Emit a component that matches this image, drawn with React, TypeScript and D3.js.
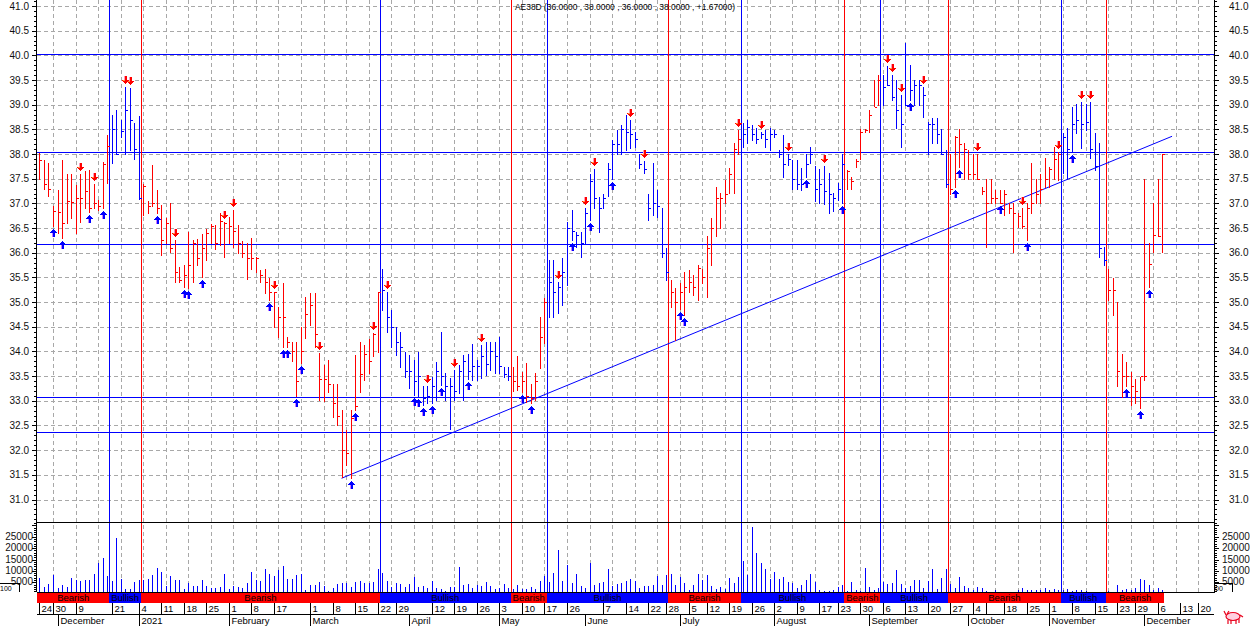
import React, { useEffect } from "react";
import * as d3 from "d3";

// ---- Daily bars (index = trading day) ----
const HIGH = [
  38.03,37.88,37.81,36.95,37.28,37.87,37.60,37.60,37.37,37.60,
  37.66,37.68,37.40,37.07,37.83,38.39,38.79,38.89,38.70,39.35,
  39.33,38.62,38.77,37.39,37.05,37.78,37.28,36.97,36.70,37.00,
  36.26,35.72,35.75,36.43,36.26,36.27,36.39,36.49,36.58,36.56,
  36.80,36.63,36.73,36.87,36.56,36.24,36.20,36.29,35.92,35.66,
  35.68,35.48,35.21,34.90,35.39,34.30,34.20,34.20,34.50,35.11,
  35.18,35.18,33.96,33.72,33.83,33.35,33.35,32.81,32.41,32.81,
  33.93,34.20,34.13,34.26,34.37,35.21,35.68,35.21,34.84,34.50,
  34.40,33.99,33.93,33.83,33.99,33.30,33.30,33.49,33.79,34.40,
  33.56,33.46,33.62,33.73,33.93,33.95,34.16,33.83,34.13,34.20,
  34.20,34.20,34.30,33.69,33.69,33.69,33.91,33.59,33.77,33.35,
  33.56,34.69,35.08,35.85,35.85,35.40,35.89,36.63,36.87,36.43,
  36.43,36.90,37.60,37.70,37.13,37.20,37.81,38.28,38.49,38.59,
  38.79,38.69,38.45,38.01,37.85,37.20,37.81,37.27,36.90,36.09,
  35.45,35.28,35.38,35.62,35.65,35.55,35.75,35.68,36.33,36.70,
  37.34,37.22,37.47,37.71,38.22,38.49,38.62,38.69,38.59,38.52,
  38.45,38.49,38.52,38.49,38.08,38.39,38.01,37.88,37.88,37.71,
  38.01,38.15,37.75,37.70,37.76,37.61,37.22,37.42,38.00,37.67,
  37.54,37.89,38.50,38.50,38.89,39.50,39.60,39.60,39.78,39.60,
  39.50,39.20,40.26,39.80,39.50,39.50,39.35,38.64,38.74,38.74,
  38.50,38.09,38.00,38.37,38.50,38.22,38.09,38.00,38.00,37.34,
  37.50,37.50,37.28,37.28,37.28,37.00,37.00,36.80,36.90,37.00,
  37.81,37.50,37.60,37.91,37.74,38.15,38.05,38.42,38.52,38.95,
  39.01,39.06,39.01,39.06,38.42,38.22,36.12,35.68,35.48,35.01,
  33.95,33.79,33.59,33.45,33.49,37.50,36.20,37.00,37.50,38.00,
];
const LOW = [
  37.50,37.30,37.14,36.55,36.41,36.29,36.60,36.70,36.41,36.63,
  36.90,36.83,36.90,36.87,36.90,37.41,37.81,38.00,38.35,38.00,
  38.08,37.89,37.08,36.77,36.80,36.95,36.80,35.95,36.19,36.02,
  35.41,35.41,35.31,35.28,35.41,35.75,35.50,35.85,36.19,36.07,
  36.16,35.91,36.19,36.12,35.99,35.92,35.46,35.68,35.60,35.41,
  35.19,35.04,34.50,34.30,34.10,34.10,33.80,33.10,33.76,34.27,
  34.54,34.10,33.02,33.00,33.18,32.68,32.51,31.46,31.70,31.43,
  32.81,33.18,33.42,33.56,33.90,33.99,34.84,34.40,34.10,33.93,
  33.69,33.49,33.25,33.12,33.10,32.92,32.95,32.95,33.02,33.32,
  33.02,32.42,33.02,33.15,33.02,33.45,33.42,33.42,33.46,33.52,
  33.62,33.56,33.56,33.49,33.42,33.20,33.22,33.18,32.98,32.95,
  33.02,33.66,34.17,34.70,34.70,34.78,34.94,35.35,36.25,36.12,
  35.92,36.19,36.66,36.90,36.43,36.90,37.14,37.50,38.01,38.00,
  38.08,38.12,38.15,37.71,37.61,36.66,36.77,36.73,35.92,35.45,
  34.90,34.23,34.87,34.74,35.21,35.14,35.04,35.38,35.11,35.75,
  36.33,36.50,37.00,37.22,37.22,38.00,38.15,38.22,38.28,38.22,
  38.32,38.15,38.08,38.35,37.95,37.54,37.78,37.30,37.30,37.27,
  37.54,37.81,37.04,37.00,36.99,36.80,36.85,37.07,37.00,37.30,
  37.30,37.74,37.89,38.45,38.45,38.97,38.99,38.99,39.40,39.10,
  38.52,38.15,39.00,39.10,38.99,38.99,38.76,38.00,38.22,38.22,
  38.00,37.34,37.20,37.34,37.74,37.50,37.50,37.50,37.50,37.20,
  36.12,37.00,37.00,37.00,36.76,36.80,36.02,36.53,36.50,36.26,
  36.80,37.00,37.00,37.34,37.34,37.50,37.47,37.61,37.50,38.05,
  38.42,38.12,38.49,37.91,37.67,35.92,35.75,35.04,34.74,33.29,
  33.08,33.29,32.91,32.95,32.85,33.42,35.30,36.02,36.33,36.02,
];
const CLOSE = [
  37.87,37.40,37.30,36.85,36.83,36.60,37.05,37.03,37.10,37.10,
  37.25,36.90,37.00,36.95,37.80,38.16,38.50,38.00,38.46,38.89,
  38.70,38.10,37.10,37.35,36.95,37.00,36.90,36.25,36.60,36.10,
  35.60,35.45,35.55,35.75,36.20,35.90,36.10,36.40,36.55,36.20,
  36.65,36.60,36.55,36.45,36.20,36.00,35.90,35.90,35.90,35.55,
  35.40,35.20,35.20,34.70,34.70,34.20,34.00,33.40,34.00,34.75,
  34.95,34.35,33.45,33.45,33.35,32.95,32.70,32.00,31.95,32.65,
  32.90,33.55,33.95,33.80,34.35,35.20,35.25,34.70,34.50,34.20,
  34.10,33.60,33.60,33.40,33.50,33.05,33.10,33.30,33.60,33.50,
  33.30,33.30,33.20,33.60,33.80,33.60,33.70,33.70,33.90,33.75,
  34.00,33.90,33.70,33.55,33.50,33.40,33.30,33.40,33.10,33.05,
  33.40,34.30,35.00,35.40,35.20,35.30,35.60,36.50,36.45,36.35,
  36.20,36.80,37.45,37.10,36.90,37.10,37.70,38.20,38.20,38.50,
  38.45,38.40,38.30,37.80,37.70,36.90,37.00,36.95,36.00,35.60,
  35.20,35.00,35.20,35.30,35.40,35.30,35.70,35.50,36.10,36.50,
  37.10,37.10,37.20,37.60,38.10,38.30,38.40,38.55,38.40,38.30,
  38.40,38.30,38.40,38.40,38.00,37.80,37.90,37.50,37.40,37.40,
  37.80,38.00,37.30,37.40,37.25,37.20,37.10,37.30,37.80,37.65,
  37.45,37.85,38.45,38.48,38.80,38.95,39.50,39.35,39.40,39.15,
  38.90,38.60,39.00,39.30,39.40,39.40,39.20,38.60,38.60,38.40,
  38.00,37.40,37.30,38.35,38.20,38.10,37.60,37.60,37.50,37.25,
  37.00,37.10,37.10,37.00,37.20,36.90,36.80,36.75,36.55,36.90,
  37.00,37.20,37.30,37.50,37.70,37.90,38.00,38.35,38.10,38.60,
  38.70,38.60,38.65,38.10,37.75,36.10,35.85,35.25,35.25,33.60,
  33.50,33.50,33.30,33.20,33.50,33.50,35.78,36.35,36.33,38.00,
];
const VOLUME = [
  6800,3100,4100,8200,2600,3800,2800,6800,6000,5600,
  6000,6000,8700,13400,15600,7800,5600,24400,6300,2000,
  2000,5100,6000,6000,6300,8200,11200,9400,3400,7800,
  6000,6000,2200,4600,3400,3500,6000,3500,2400,2400,
  2800,8700,2000,3400,2800,2400,4600,9600,5900,5600,
  10700,8700,7800,10300,12200,6500,6500,8200,8700,1500,
  3800,3800,5000,3400,1200,2400,4100,4600,4600,2800,
  5000,5600,4600,4600,5000,10700,9000,5600,3100,4600,
  4100,3100,4400,7200,3100,3400,2400,5400,2400,2100,
  1200,2800,2800,11600,3800,4300,2400,3800,3400,5100,
  3400,2200,2400,4300,2400,1900,3800,2100,2100,2800,
  2100,5600,7800,5100,9000,19300,5400,12600,4600,8700,
  3400,2400,13400,3800,4900,5100,10900,3400,4300,4700,
  5600,6500,5600,2600,3400,3400,3800,7800,3800,8200,
  8500,3800,7200,4900,1500,3800,8500,6000,8200,3400,
  2200,2800,2200,6800,4700,7200,14400,8200,29100,17800,
  13400,10700,6300,9700,6300,7200,5100,4600,2400,3800,
  6000,8700,5300,1500,1300,1300,1600,3100,3800,1300,
  5100,1600,1200,11200,2800,1600,2600,5100,4300,4700,
  10400,4300,2600,3400,6000,6000,2600,5600,10700,2100,
  6800,10700,4300,2600,7200,3400,2400,1600,2800,2400,
  1200,900,1500,900,900,900,900,1600,2400,1600,
  1500,1500,1800,2400,1500,1900,1800,1500,1900,1200,
  1500,1500,1200,900,900,900,900,1200,900,3800,
  1800,1900,1800,2400,6300,5900,3800,1500,2600,1500,
];

// ---- Signals / trend states ----
const BULL_STARTS = [16, 76, 113, 156, 187, 227];
const BEAR_STARTS = [23, 105, 140, 179, 202, 237];
const UP_ARROWS = [3,5,11,14,26,32,33,36,51,54,55,57,58,69,70,83,84,85,87,89,95,107,109,118,122,127,142,143,170,178,193,203,204,213,219,229,241,244,246];
const DOWN_ARROWS = [9,12,19,20,30,41,43,52,62,74,77,86,92,98,115,121,123,131,134,155,160,166,174,188,189,191,196,208,218,226,231,233];

// ---- Drawn studies ----
const H_LINES = [40.02, 38.05, 36.18, 33.08, 32.36];
const TREND_IDX = [67, 251.2];
const TREND_PRICE = [31.43, 38.36];

// ---- Axis labels ----
const PRICE_LABELS = [31, 31.5, 32, 32.5, 33, 33.5, 34, 34.5, 35, 35.5, 36, 36.5, 37, 37.5, 38, 38.5, 39, 39.5, 40, 40.5, 41];
const VOL_LABELS = [5000, 10000, 15000, 20000, 25000];
const DATE_LABELS = ["24","30","9","21","4","11","18","25","1","8","17","1","8","15","22","29","12","19","26","3","10","17","26","7","14","22","28","5","12","19","26","2","9","17","23","30","6","13","20","27","4","","18","25","1","8","15","23","29","6","13","20"];
const DATE_INDEX = [0,3,8,16,22,27,32,37,42,47,52,60,65,70,75,79,87,92,97,102,107,112,117,125,130,135,139,144,148,153,158,163,168,173,177,182,187,192,197,202,207,210,214,219,224,229,234,239,243,248,253,257];
const MONTH_LABELS = ["December","2021","February","March","April","May","June","July","August","September","October","November","December"];
const MONTH_INDEX = [4,22,42,60,82,102,121,142,163,184,206,224,245];
const GRID_INDEX = [...d3.range(3, 84, 5), ...d3.range(87, 258, 5)];
const TITLE = "AE38D (36.0000 , 38.0000 , 36.0000 , 38.0000 , +1.67000)";

const FONT = "'Liberation Sans', Arial, Helvetica, sans-serif";
const RED = "#ff0000";
const BLUE = "#0000ff";

export default function App() {
  useEffect(() => {
    document.body.style.margin = "0";
  }, []);

  const W = 1250, H = 626;
  const L = 37, R = 1214;
  const PRICE_BOT = 522, VOL_BOT = 592, BAND_BOT = 603, DATE_BOT = 614;
  const n = HIGH.length;

  const x = d3.scaleLinear().domain([-0.55, 260.5]).range([L, R]);
  const yP = d3.scaleLinear().domain([31, 41]).range([499.5, 6]);
  const yV = d3.scaleLinear().domain([0, 25000]).range([593.7, 536.7]);
  const px = (i: number) => Math.round(x(i)) + 0.5;
  const py = (v: number) => Math.round(v) + 0.5;

  const events = [
    { i: 0, bull: false },
    ...BULL_STARTS.map((i) => ({ i, bull: true })),
    ...BEAR_STARTS.map((i) => ({ i, bull: false })),
  ].sort((a, b) => a.i - b.i);
  const segments = events.map((e, k) => ({
    start: e.i,
    end: k < events.length - 1 ? events[k + 1].i : n,
    bull: e.bull,
  }));
  const isBull = (i: number) => {
    let b = false;
    for (const e of events) if (e.i <= i) b = e.bull;
    return b;
  };

  const priceMinor = d3.range(306, 412).map((v) => v / 10).filter((v) => yP(v) >= 0 && yP(v) <= PRICE_BOT);
  const volMinor = d3.range(0, 32).map((v) => v * 1000).filter((v) => yV(v) >= PRICE_BOT && yV(v) <= VOL_BOT);

  const downArrow = (cx: number, t: number) =>
    `M${cx - 1.5},${t - 8} H${cx + 1.5} V${t - 4} H${cx + 3.5} L${cx},${t} L${cx - 3.5},${t - 4} H${cx - 1.5} Z`;
  const upArrow = (cx: number, t: number) =>
    `M${cx - 1.5},${t + 8} H${cx + 1.5} V${t + 4} H${cx + 3.5} L${cx},${t} L${cx - 3.5},${t + 4} H${cx - 1.5} Z`;

  const trendLine = d3.line<number>()
    .x((_, k) => x(TREND_IDX[k]))
    .y((d) => yP(d));

  return (
    <svg
      width={W}
      height={H}
      viewBox={`0 0 ${W} ${H}`}
      style={{ position: "absolute", left: 0, top: 0, background: "#fff", display: "block" }}
      fontFamily={FONT}
    >
      <defs>
        <clipPath id="pclip">
          <rect x={L} y={0} width={R - L} height={PRICE_BOT} />
        </clipPath>
        <clipPath id="vclip">
          <rect x={L} y={PRICE_BOT} width={R - L} height={VOL_BOT - PRICE_BOT} />
        </clipPath>
      </defs>
      <rect x={0} y={0} width={W} height={H} fill="#fff" />

      {/* horizontal dashed grid */}
      {PRICE_LABELS.map((v) => (
        <line key={"hg" + v} x1={L} x2={R} y1={py(yP(v))} y2={py(yP(v))}
          stroke="#a8a8a8" strokeDasharray="4,3" shapeRendering="crispEdges" />
      ))}
      {/* vertical dashed grid */}
      {GRID_INDEX.map((g) => (
        <line key={"vg" + g} x1={px(g)} x2={px(g)} y1={0} y2={VOL_BOT}
          stroke="#a8a8a8" strokeDasharray="4,3" shapeRendering="crispEdges" />
      ))}

      {/* horizontal support / resistance lines */}
      {H_LINES.map((v) => (
        <line key={"hl" + v} x1={L} x2={R} y1={py(yP(v))} y2={py(yP(v))}
          stroke={BLUE} strokeWidth={1} shapeRendering="crispEdges" />
      ))}

      {/* state-change vertical lines */}
      {events.filter((e) => e.i > 0).map((e) => (
        <line key={"ev" + e.i} x1={px(e.i - 0.5)} x2={px(e.i - 0.5)} y1={0} y2={VOL_BOT}
          stroke={e.bull ? BLUE : RED} strokeWidth={1} shapeRendering="crispEdges" />
      ))}

      {/* trend line */}
      <g clipPath="url(#pclip)">
        <path d={trendLine(TREND_PRICE) || ""} fill="none" stroke={BLUE} strokeWidth={1} />
      </g>

      {/* price bars */}
      <g clipPath="url(#pclip)" shapeRendering="crispEdges">
        {HIGH.map((h, i) => {
          const c = isBull(i) ? BLUE : RED;
          const xi = px(i);
          return (
            <g key={"b" + i}>
              <line x1={xi} x2={xi} y1={Math.round(yP(h))} y2={Math.round(yP(LOW[i])) + 1} stroke={c} />
              <line x1={xi} x2={xi + 2.5} y1={py(yP(CLOSE[i]))} y2={py(yP(CLOSE[i]))} stroke={c} />
            </g>
          );
        })}
      </g>

      {/* signal arrows */}
      <g clipPath="url(#pclip)" shapeRendering="crispEdges">
        {DOWN_ARROWS.map((i) => {
          const cx = px(i);
          const t = Math.round(yP(HIGH[i])) - 3;
          return (
            <g key={"da" + i}>
              <path d={downArrow(cx, t)} fill={RED} />
              <rect x={cx - 1.5} y={t - 8} width={1} height={4} fill="#ff99bb" />
              <rect x={cx - 2.5} y={t - 4} width={2} height={1} fill="#ff9933" />
            </g>
          );
        })}
        {UP_ARROWS.map((i) => {
          const cx = px(i);
          const t = Math.round(yP(LOW[i])) + 3;
          return (
            <g key={"ua" + i}>
              <path d={upArrow(cx, t)} fill={BLUE} />
              <rect x={cx - 1.5} y={t + 4} width={1} height={4} fill="#cc77ff" />
            </g>
          );
        })}
      </g>

      {/* volume bars */}
      <g clipPath="url(#vclip)" shapeRendering="crispEdges">
        {VOLUME.map((v, i) => (
          <line key={"v" + i} x1={px(i)} x2={px(i)} y1={VOL_BOT} y2={Math.round(yV(v))} stroke={BLUE} />
        ))}
      </g>

      {/* panel frame lines */}
      <g stroke="#000" shapeRendering="crispEdges">
        <line x1={L} x2={R} y1={PRICE_BOT + 0.5} y2={PRICE_BOT + 0.5} />
        <line x1={L} x2={R + 1} y1={VOL_BOT + 0.5} y2={VOL_BOT + 0.5} />
        <line x1={L} x2={R} y1={DATE_BOT + 0.5} y2={DATE_BOT + 0.5} />
        <line x1={L - 0.5} x2={L - 0.5} y1={0} y2={VOL_BOT} />
        <line x1={R + 0.5} x2={R + 0.5} y1={0} y2={VOL_BOT} />
      </g>

      {/* price axis ticks & labels (both sides) */}
      <g stroke="#000" shapeRendering="crispEdges">
        {priceMinor.map((v) => {
          const major = Math.abs(v * 2 - Math.round(v * 2)) < 1e-6;
          const len = major ? 5 : 3;
          const yy = py(yP(v));
          return (
            <g key={"pt" + v}>
              <line x1={L - len} x2={L} y1={yy} y2={yy} />
              <line x1={R} x2={R + len} y1={yy} y2={yy} />
            </g>
          );
        })}
        {volMinor.map((v) => {
          const major = v % 5000 === 0;
          const len = major ? 5 : 3;
          const yy = py(yV(v));
          return (
            <g key={"vt" + v}>
              <line x1={L - len} x2={L} y1={yy} y2={yy} />
              <line x1={R} x2={R + len} y1={yy} y2={yy} />
            </g>
          );
        })}
      </g>
      <g fontSize={10} fill="#111">
        {PRICE_LABELS.map((v) => (
          <g key={"pl" + v}>
            <text x={29} y={yP(v) + 3.5} textAnchor="end">{v.toFixed(1)}</text>
            <text x={1229} y={yP(v) + 3.5} textAnchor="start">{v.toFixed(1)}</text>
          </g>
        ))}
        {VOL_LABELS.map((v) => (
          <g key={"vl" + v}>
            <text x={33} y={yV(v) + 3} textAnchor="end">{v}</text>
            <text x={1222} y={yV(v) + 3} textAnchor="start">{v}</text>
          </g>
        ))}
      </g>

      {/* trend-state band */}
      <g>
        {segments.map((s) => {
          const x0 = x(s.start - 0.5);
          const x1 = x(s.end - 0.5);
          return (
            <g key={"sg" + s.start}>
              <rect x={x0} y={VOL_BOT + 1} width={x1 - x0} height={BAND_BOT - VOL_BOT - 1}
                fill={s.bull ? BLUE : RED} shapeRendering="crispEdges" />
              <text x={(x0 + x1) / 2} y={601} textAnchor="middle" fontSize={9.5} fill="#000">
                {s.bull ? "Bullish" : "Bearish"}
              </text>
            </g>
          );
        })}
      </g>

      {/* date row */}
      <g fontSize={9.5} fill="#000">
        {DATE_INDEX.map((i, k) => (
          <g key={"dt" + k}>
            <line x1={px(i)} x2={px(i)} y1={BAND_BOT} y2={DATE_BOT} stroke="#000" shapeRendering="crispEdges" />
            <text x={px(i) + 2} y={611.5}>{DATE_LABELS[k]}</text>
          </g>
        ))}
        {MONTH_INDEX.map((i, k) => (
          <g key={"mt" + k}>
            <line x1={px(i)} x2={px(i)} y1={DATE_BOT} y2={H} stroke="#000" shapeRendering="crispEdges" />
            <text x={px(i) + 2} y={624}>{MONTH_LABELS[k]}</text>
          </g>
        ))}
      </g>

      {/* small scale boxes */}
      <g stroke="#000" fill="none" shapeRendering="crispEdges">
        <polyline points={`0,583.5 19.5,583.5 19.5,592`} />
        <polyline points={`${R},583.5 1232.5,583.5 1232.5,592`} />
      </g>
      <text x={0} y={591} fontSize={7} fill="#000">100</text>
      <text x={1215} y={591} fontSize={7} fill="#000">00</text>

      {/* bull logo */}
      <g stroke="#e8001c" fill="#ffd0e0" strokeWidth={1.2}>
        <ellipse cx={1233} cy={616.5} rx={7} ry={4} />
        <path d="M1226,615 l-2,-4 M1227,614 l2,-3 M1228,620 v4 M1231,620 v4 M1236,620 v4 M1239,619 v4 M1240,615 l3,2" fill="none" />
      </g>

      {/* title */}
      <text x={515} y={10} fontSize={9} fill="#000" textLength={220} lengthAdjust="spacingAndGlyphs">{TITLE}</text>
    </svg>
  );
}
